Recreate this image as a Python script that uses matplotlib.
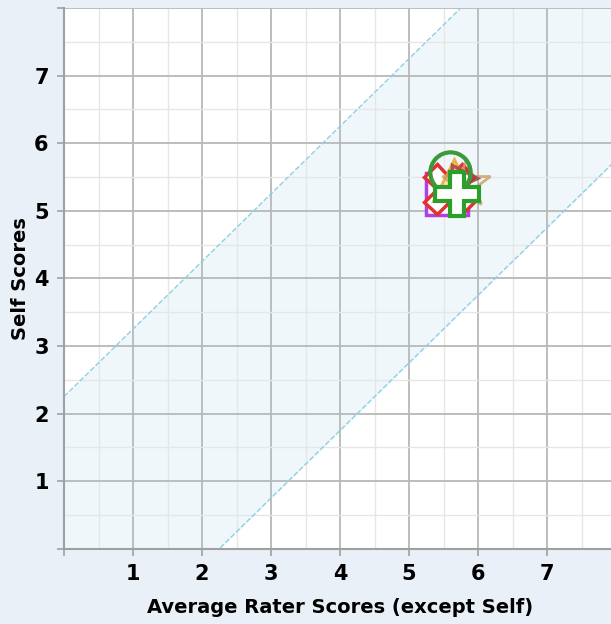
import matplotlib
matplotlib.use('Agg')
import matplotlib.pyplot as plt
import numpy as np

# agreement band half-width around the y = x diagonal
band_width = 2.25

# one marker per group (rater average vs self score)
groups = ['Group A', 'Group B', 'Group C', 'Group D', 'Group E', 'Group F', 'Group G']
rater_avg = [5.55, 5.58, 5.65, 5.82, 5.80, 5.59, 5.70]
self_score = [5.25, 5.32, 5.45, 5.40, 5.48, 5.58, 5.25]

styles = [
    dict(marker='s', ms=30, mec='#b23ee6', mfc='white', mew=2.5),
    dict(marker='X', ms=36, mec='#e03030', mfc='white', mew=2.5),
    dict(marker='^', ms=30, mec='#f0a020', mfc='#f8d8a0', mew=2, alpha=0.8),
    dict(marker='*', ms=36, mec='#c8a060', mfc='none', mew=2, alpha=0.8),
    dict(marker='>', ms=18, mec='#a04040', mfc='none', mew=2.5, alpha=0.85),
    dict(marker='o', ms=29, mec='#3a9a3a', mfc='none', mew=3),
    dict(marker='P', ms=32, mec='#2aa02a', mfc='white', mew=3),
]

fig = plt.figure(figsize=(6.11, 6.24), dpi=100)
fig.patch.set_facecolor('#e9f0f8')
ax = fig.add_axes([64 / 611, 75.3 / 624, 8 * 69 / 611, 540.7 / 624])
ax.set_facecolor('white')

x = np.linspace(0, 8, 200)
ax.fill_between(x, np.clip(x - band_width, 0, 8), np.clip(x + band_width, 0, 8),
                color='#eff7fa', zorder=0)
ax.plot(x, x + band_width, color='#90d0e4', lw=1, ls='--', zorder=1)
ax.plot(x, x - band_width, color='#90d0e4', lw=1, ls='--', zorder=1)

for gx, gy, st in zip(rater_avg, self_score, styles):
    ax.plot([gx], [gy], ls='none', zorder=5, **st)

ax.set_xlim(0, 8)
ax.set_ylim(0, 8)
ax.set_xticks(range(0, 9))
ax.set_yticks(range(0, 9))
ax.set_xticklabels([''] + [str(i) for i in range(1, 8)] + [''])
ax.set_yticklabels([''] + [str(i) for i in range(1, 8)] + [''])
ax.set_xticks(np.arange(0.5, 8, 1), minor=True)
ax.set_yticks(np.arange(0.5, 8, 1), minor=True)
ax.grid(True, which='major', color='#b8b8b8', lw=1.3, zorder=2)
ax.grid(True, which='minor', color='#e6e6e6', lw=1, zorder=2)
ax.set_axisbelow(True)
ax.tick_params(which='major', length=5, color='#a0a0a0', width=1.2,
               labelsize=15, pad=6)
ax.tick_params(which='minor', length=0)
for lab in ax.get_xticklabels() + ax.get_yticklabels():
    lab.set_fontweight('bold')

for side in ['top', 'right']:
    ax.spines[side].set_visible(False)
for side in ['left', 'bottom']:
    ax.spines[side].set_color('#a0a0a0')
    ax.spines[side].set_linewidth(1.5)

ax.set_xlabel('Average Rater Scores (except Self)', fontsize=14,
              fontweight='bold')
ax.set_ylabel('Self Scores', fontsize=14, fontweight='bold')
ax.xaxis.set_label_coords(0.5, -0.092)
ax.yaxis.set_label_coords(-0.062, 0.5)

fig.savefig('out.png', dpi=100, facecolor=fig.get_facecolor())
